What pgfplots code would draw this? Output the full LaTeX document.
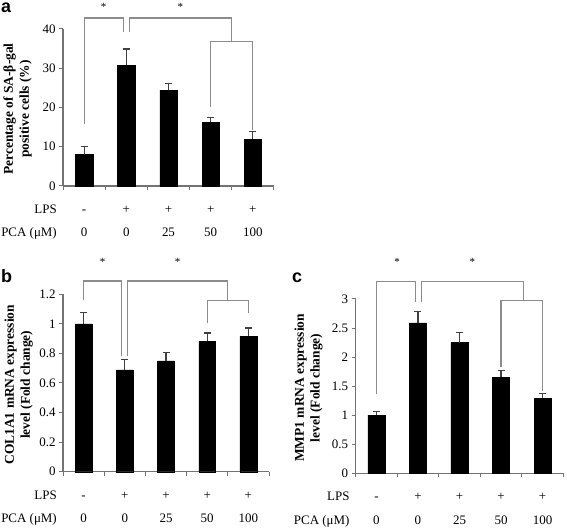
\documentclass[border=0pt]{standalone}
\usepackage{fontspec}
\setmainfont{Liberation Serif}
\newfontfamily\panelfont{Liberation Sans}
\usepackage{pgfplots}
\pgfplotsset{compat=1.18}

\definecolor{axisgray}{gray}{0.45}
\definecolor{brgray}{gray}{0.55}
\definecolor{errgray}{gray}{0.25}

\pgfplotsset{
 panel/.style={
  scale only axis, anchor=south west,
  xmin=-0.5, xmax=4.5, ymin=0,
  axis x line*=bottom, axis y line*=left,
  axis line style={-, axisgray, line width=1.1bp},
  xtick={-0.5,0.5,...,4.5}, xticklabels={},
  tick align=outside, major tick length=4bp,
  tick style={axisgray, line width=1bp},
  /pgf/number format/assume math mode=true,
  yticklabel style={font=\fontsize{13}{15}\selectfont, black},
  ylabel style={at={(axis description cs:-0.215,0.49)}, anchor=center, align=center, font=\bfseries\fontsize{13.5}{16}\selectfont},
  clip=false,
 },
 barplot/.style={ybar, bar width=0.41, fill=black, draw=black,
   error bars/.cd, y dir=plus, y explicit,
   error bar style={errgray, line width=1.1bp},
   error mark options={errgray, line width=1.1bp, mark size=3.5bp, rotate=90}},
}
\tikzset{
 bracket/.style={brgray, line width=1.1bp},
 rowtxt/.style={font=\fontsize{13}{15}\selectfont, inner sep=0pt},
 star/.style={font=\fontsize{11}{12}\selectfont, inner sep=0pt},
}

\newcommand\rowlabels{%
 \node[rowtxt, anchor=base east, xshift=-6bp, yshift=-27.5bp] at (axis cs:-0.5,0) {LPS};
 \node[rowtxt, anchor=base east, xshift=-6bp, yshift=-51bp] at (axis cs:-0.5,0) {PCA (μM)};
 \node[rowtxt, anchor=base, yshift=-27.5bp] at (axis cs:0,0) {-};
 \node[rowtxt, anchor=base, yshift=-27.5bp] at (axis cs:1,0) {+};
 \node[rowtxt, anchor=base, yshift=-27.5bp] at (axis cs:2,0) {+};
 \node[rowtxt, anchor=base, yshift=-27.5bp] at (axis cs:3,0) {+};
 \node[rowtxt, anchor=base, yshift=-27.5bp] at (axis cs:4,0) {+};
 \node[rowtxt, anchor=base, yshift=-51bp] at (axis cs:0,0) {0};
 \node[rowtxt, anchor=base, yshift=-51bp] at (axis cs:1,0) {0};
 \node[rowtxt, anchor=base, yshift=-51bp] at (axis cs:2,0) {25};
 \node[rowtxt, anchor=base, yshift=-51bp] at (axis cs:3,0) {50};
 \node[rowtxt, anchor=base, yshift=-51bp] at (axis cs:4,0) {100};
}

\begin{document}
\begin{tikzpicture}
\useasboundingbox (0bp,0bp) rectangle (567bp,531bp);

% ---------------- panel a ----------------
\begin{axis}[panel, at={(63bp,345bp)}, width=211bp, height=157bp,
  ymax=40, ytick={0,10,20,30,40},
  ylabel={Percentage of SA-β-gal\\positive cells (\%)}]
\addplot[barplot] coordinates {
 (0,8.0)  +- (0,2.0)
 (1,30.8) +- (0,4.1)
 (2,24.4) +- (0,1.7)
 (3,16.3) +- (0,1.1)
 (4,11.9) +- (0,1.9)
};
\draw[bracket] (axis cs:0,15.8) -- (axis cs:0,42.8) -- (axis cs:0.93,42.8) -- (axis cs:0.93,39.2);
\draw[bracket] (axis cs:1.07,39.2) -- (axis cs:1.07,42.8) -- (axis cs:3.5,42.8) -- (axis cs:3.5,36.7);
\draw[bracket] (axis cs:3,20.1) -- (axis cs:3,36.7) -- (axis cs:4,36.7) -- (axis cs:4,14.3);
\node[star] at (axis cs:0.46,45.6) {*};
\node[star] at (axis cs:2.28,45.6) {*};
\rowlabels
\end{axis}

% ---------------- panel b ----------------
\begin{axis}[panel, at={(63bp,59.3bp)}, width=206bp, height=177.4bp,
  ymax=1.2, ytick={0,0.2,0.4,0.6,0.8,1,1.2},
  ylabel={COL1A1 mRNA expression\\level (Fold change)}]
\addplot[barplot] coordinates {
 (0,1.0)   +- (0,0.076)
 (1,0.688) +- (0,0.072)
 (2,0.749) +- (0,0.056)
 (3,0.882) +- (0,0.056)
 (4,0.916) +- (0,0.056)
};
\draw[bracket] (axis cs:0,1.16) -- (axis cs:0,1.29) -- (axis cs:0.93,1.29) -- (axis cs:0.93,0.78);
\draw[bracket] (axis cs:1.07,0.78) -- (axis cs:1.07,1.29) -- (axis cs:3.5,1.29) -- (axis cs:3.5,1.157);
\draw[bracket] (axis cs:3,1.006) -- (axis cs:3,1.157) -- (axis cs:4,1.157) -- (axis cs:4,1.074);
\node[star] at (axis cs:0.46,1.42) {*};
\node[star] at (axis cs:2.28,1.42) {*};
\rowlabels
\end{axis}

% ---------------- panel c ----------------
\begin{axis}[panel, at={(355.7bp,57.7bp)}, width=207.6bp, height=174.3bp,
  ymax=3, ytick={0,0.5,1,1.5,2,2.5,3},
  ylabel style={at={(axis description cs:-0.227,0.49)}},
  ylabel={MMP1 mRNA expression\\level (Fold change)}]
\addplot[barplot] coordinates {
 (0,1.0)  +- (0,0.07)
 (1,2.59) +- (0,0.19)
 (2,2.25) +- (0,0.17)
 (3,1.65) +- (0,0.12)
 (4,1.29) +- (0,0.08)
};
\draw[bracket] (axis cs:0,1.36) -- (axis cs:0,3.30) -- (axis cs:0.95,3.30) -- (axis cs:0.95,2.95);
\draw[bracket] (axis cs:1.08,2.95) -- (axis cs:1.08,3.30) -- (axis cs:3.55,3.30) -- (axis cs:3.55,2.97);
\draw[bracket] (axis cs:3,1.83) -- (axis cs:3,2.97) -- (axis cs:4,2.97) -- (axis cs:4,1.42);
\node[star] at (axis cs:0.5,3.64) {*};
\node[star] at (axis cs:2.31,3.64) {*};
\rowlabels
\end{axis}

% panel letters
\node[anchor=base west, inner sep=0pt, font=\panelfont\bfseries\fontsize{18}{20}\selectfont] at (1bp,518bp) {a};
\node[anchor=base west, inner sep=0pt, font=\panelfont\bfseries\fontsize{18}{20}\selectfont] at (1bp,248bp) {b};
\node[anchor=base west, inner sep=0pt, font=\panelfont\bfseries\fontsize{18}{20}\selectfont] at (292bp,248bp) {c};
\end{tikzpicture}
\end{document}
